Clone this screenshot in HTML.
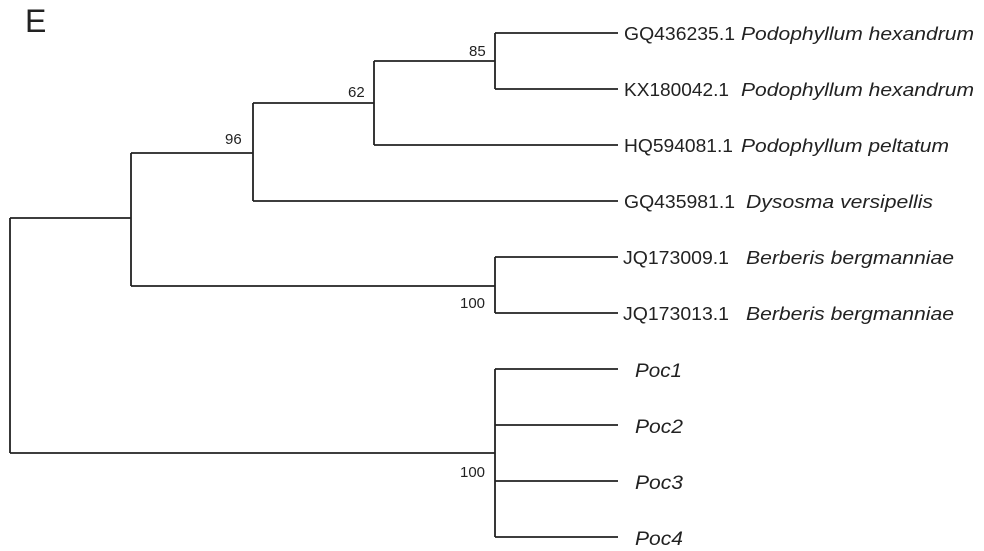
<!DOCTYPE html>
<html><head><meta charset="utf-8"><style>
html,body{margin:0;padding:0;background:#fff;}
svg{display:block;}
text{font-family:"Liberation Sans",sans-serif;fill:#222;}
.acc{font-size:18px;}
.sp{font-size:18px;font-style:italic;}
.poc{font-size:19px;font-style:italic;}
.bs{font-size:15px;}
</style></head><body>
<svg width="984" height="551" viewBox="0 0 984 551" xmlns="http://www.w3.org/2000/svg">
<g stroke="#222" stroke-width="1.8" fill="none">
<path d="M10 218V453"/>
<path d="M10 218H131"/>
<path d="M131 153V286"/>
<path d="M131 153H253"/>
<path d="M253 103V201"/>
<path d="M253 103H374"/>
<path d="M374 61V145"/>
<path d="M374 61H495"/>
<path d="M495 33V89"/>
<path d="M495 33H618M495 89H618"/>
<path d="M374 145H618"/>
<path d="M253 201H618"/>
<path d="M131 286H495"/>
<path d="M495 257V313"/>
<path d="M495 257H618M495 313H618"/>
<path d="M10 453H495"/>
<path d="M495 369V537"/>
<path d="M495 369H618M495 425H618M495 481H618M495 537H618"/>
</g>
<text x="25" y="32" style="font-size:32px">E</text>
<text class="bs" x="469" y="56">85</text>
<text class="bs" x="348" y="97">62</text>
<text class="bs" x="225" y="144">96</text>
<text class="bs" x="460" y="308">100</text>
<text class="bs" x="460" y="477">100</text>
<text class="acc" x="624" y="40" textLength="111" lengthAdjust="spacingAndGlyphs">GQ436235.1</text>
<text class="sp" x="741" y="40" textLength="233" lengthAdjust="spacingAndGlyphs">Podophyllum hexandrum</text>
<text class="acc" x="624" y="96" textLength="105" lengthAdjust="spacingAndGlyphs">KX180042.1</text>
<text class="sp" x="741" y="96" textLength="233" lengthAdjust="spacingAndGlyphs">Podophyllum hexandrum</text>
<text class="acc" x="624" y="152" textLength="109" lengthAdjust="spacingAndGlyphs">HQ594081.1</text>
<text class="sp" x="741" y="152" textLength="208" lengthAdjust="spacingAndGlyphs">Podophyllum peltatum</text>
<text class="acc" x="624" y="208" textLength="111" lengthAdjust="spacingAndGlyphs">GQ435981.1</text>
<text class="sp" x="746" y="208" textLength="187" lengthAdjust="spacingAndGlyphs">Dysosma versipellis</text>
<text class="acc" x="623" y="264" textLength="106" lengthAdjust="spacingAndGlyphs">JQ173009.1</text>
<text class="sp" x="746" y="264" textLength="208" lengthAdjust="spacingAndGlyphs">Berberis bergmanniae</text>
<text class="acc" x="623" y="320" textLength="106" lengthAdjust="spacingAndGlyphs">JQ173013.1</text>
<text class="sp" x="746" y="320" textLength="208" lengthAdjust="spacingAndGlyphs">Berberis bergmanniae</text>
<text class="poc" x="635" y="377" textLength="47" lengthAdjust="spacingAndGlyphs">Poc1</text>
<text class="poc" x="635" y="433" textLength="48" lengthAdjust="spacingAndGlyphs">Poc2</text>
<text class="poc" x="635" y="489" textLength="48" lengthAdjust="spacingAndGlyphs">Poc3</text>
<text class="poc" x="635" y="545" textLength="48" lengthAdjust="spacingAndGlyphs">Poc4</text>
</svg>
</body></html>
